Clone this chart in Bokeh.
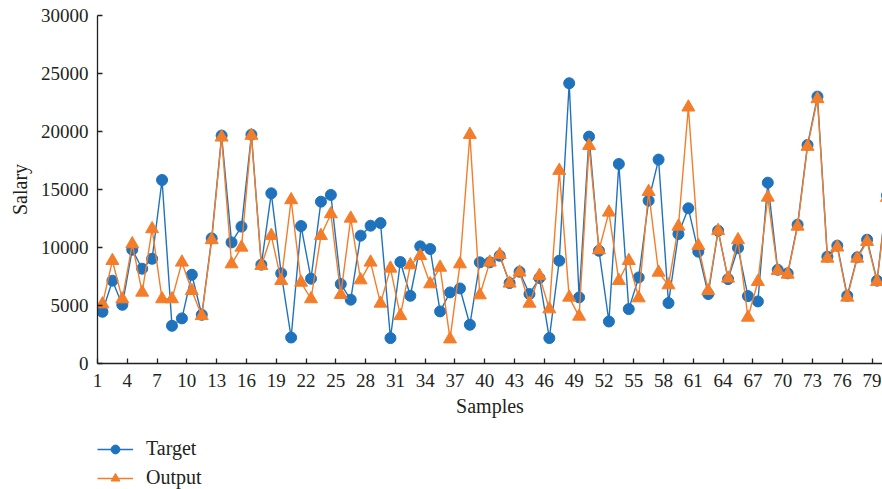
from bokeh.plotting import figure
from bokeh.models import Legend, LegendItem, FixedTicker, Range1d, ColumnDataSource
from bokeh.layouts import column
from bokeh.embed import file_html
from bokeh.resources import INLINE

samples = list(range(1, 81))
target = [4460, 7140, 5060, 9810, 8170, 9030, 15820, 3250, 3890, 7650,
          4200, 10790, 19650, 10440, 11800, 19730, 8520, 14670, 7770, 2240,
          11850, 7310, 13950, 14530, 6850, 5500, 11020, 11880, 12110, 2190,
          8750, 5840, 10100, 9870, 4490, 6130, 6470, 3340, 8720, 8720,
          9290, 6940, 7910, 5990, 7370, 2190, 8860, 24160, 5700, 19560,
          9720, 3620, 17200, 4690, 7420, 14040, 17580, 5210, 11160, 13380,
          9640, 5990, 11450, 7280, 9960, 5810, 5350, 15590, 8080, 7770,
          11970, 18840, 23010, 9210, 10160, 5840, 9150, 10670, 7140, 14500]
output = [5120, 8860, 5550, 10300, 6130, 11600, 5560, 5560, 8720, 6270,
          4110, 10650, 19500, 8570, 10010, 19650, 8430, 11020, 7140, 14100,
          6990, 5560, 11020, 12890, 5930, 12510, 7190, 8720, 5180, 8200,
          4110, 8490, 9290, 6850, 8280, 2100, 8570, 19730, 5900, 8720,
          9380, 6910, 7860, 5180, 7570, 4690, 16630, 5700, 4060, 18780,
          9780, 13030, 7140, 8860, 5640, 14810, 7850, 6760, 11820, 22090,
          10160, 6270, 11450, 7340, 10650, 3970, 7050, 14320, 8000, 7680,
          11820, 18700, 22810, 9060, 10020, 5700, 9060, 10500, 7050, 14300]
x_ticks = list(range(1, 80, 3))
y_ticks = [0, 5000, 10000, 15000, 20000, 25000, 30000]
series_names = ["Target", "Output"]

BLUE = "#1F72BC"
ORANGE = "#F47D2A"
FONT = "Liberation Serif"
TXT = "#231F20"

src = ColumnDataSource(dict(x=[s + 0.5 for s in samples], target=target, output=output))


def draw_series(fig):
    lt = fig.line("x", "target", source=src, line_color=BLUE, line_width=1.4)
    mt = fig.scatter("x", "target", source=src, marker="circle", size=11,
                     fill_color=BLUE, line_color=BLUE)
    lo = fig.line("x", "output", source=src, line_color=ORANGE, line_width=1.4)
    mo = fig.scatter("x", "output", source=src, marker="triangle", size=13,
                     fill_color=ORANGE, line_color=ORANGE)
    return lt, mt, lo, mo


p = figure(width=882, height=420, output_backend="svg", toolbar_location=None,
           x_range=Range1d(1, 80.05), y_range=Range1d(0, 30000),
           min_border_left=97, min_border_top=15, min_border_bottom=57, min_border_right=0,
           x_axis_label="Samples", y_axis_label="Salary")
p.outline_line_color = None
p.grid.visible = False

for ax in (p.xaxis[0], p.yaxis[0]):
    ax.axis_line_color = "#231F20"
    ax.axis_line_width = 1.3
    ax.major_tick_line_color = "#231F20"
    ax.major_tick_line_width = 1.3
    ax.major_tick_in = 5
    ax.major_tick_out = 0
    ax.minor_tick_line_color = None
    ax.major_label_text_font = FONT
    ax.major_label_text_font_size = "19px"
    ax.major_label_text_color = TXT
    ax.axis_label_text_font = FONT
    ax.axis_label_text_font_size = "20px"
    ax.axis_label_text_font_style = "normal"
    ax.axis_label_text_color = TXT

p.xaxis.ticker = FixedTicker(ticks=x_ticks)
p.yaxis.ticker = FixedTicker(ticks=y_ticks)
p.xaxis.major_label_standoff = 10
p.yaxis.major_label_standoff = 9
p.xaxis.axis_label_standoff = 5
p.yaxis.axis_label_standoff = 7

draw_series(p)

# legend strip below the chart (its ranges keep the series out of view)
pl = figure(width=882, height=69, output_backend="svg", toolbar_location=None,
            x_range=Range1d(-2, -1), y_range=Range1d(-2, -1),
            x_axis_location=None, y_axis_location=None,
            min_border_left=0, min_border_right=0, min_border_top=0, min_border_bottom=0)
pl.outline_line_color = None
pl.grid.visible = False
lt, mt, lo, mo = draw_series(pl)

legend = Legend(items=[LegendItem(label=series_names[0], renderers=[lt, mt]),
                       LegendItem(label=series_names[1], renderers=[lo, mo])],
                location=(0, 0), orientation="vertical")
legend.border_line_color = None
legend.background_fill_alpha = 0
legend.padding = 0
legend.margin = 0
legend.spacing = 6
legend.glyph_width = 36
legend.glyph_height = 22
legend.label_height = 22
legend.label_standoff = 13
legend.label_text_font = FONT
legend.label_text_font_size = "20px"
legend.label_text_color = TXT
pl.add_layout(legend)

open("out.html", "w").write(file_html(column(p, pl, spacing=0), INLINE))
